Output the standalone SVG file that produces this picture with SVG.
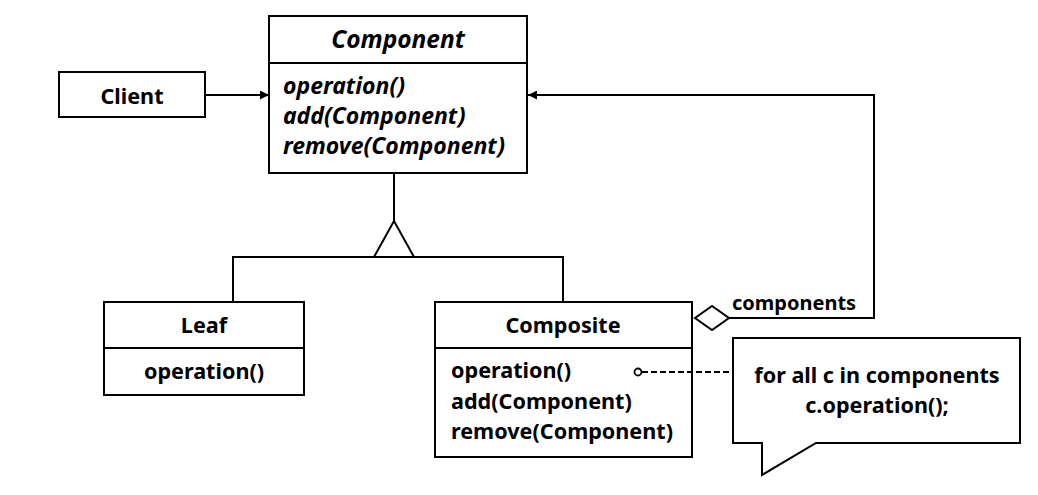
<svg xmlns="http://www.w3.org/2000/svg" width="1038" height="495" viewBox="0 0 1038 495">
<style>
.box{fill:#fff;stroke:#000;stroke-width:2}
.ln{fill:none;stroke:#000;stroke-width:2}
text{font-family:"Noto Sans","Open Sans","DejaVu Sans",sans-serif;font-weight:bold;font-size:21.6px;fill:#000}
.it{font-style:italic;font-size:23px}
.c{text-anchor:middle}
</style>
<defs>
<marker id="arr" viewBox="0 0 10 10" refX="10" refY="5" markerWidth="9" markerHeight="9" markerUnits="userSpaceOnUse" orient="auto">
<path d="M0,0 L10,5 L0,10 z" fill="#000"/>
</marker>
</defs>
<g id="component">
<rect class="box" x="269" y="16" width="258" height="157"/>
<line class="ln" x1="269" y1="63" x2="527" y2="63"/>
<text class="it c" x="398" y="48" style="font-size:24.5px">Component</text>
<text class="it" x="283" y="94">operation()</text>
<text class="it" x="283" y="124">add(Component)</text>
<text class="it" x="283" y="154">remove(Component)</text>
</g>
<g id="client">
<rect class="box" x="59" y="72" width="146" height="45"/>
<text class="c" x="132" y="104">Client</text>
</g>
<g id="leaf">
<rect class="box" x="104" y="302" width="200" height="93"/>
<line class="ln" x1="104" y1="348" x2="304" y2="348"/>
<text class="c" x="204" y="333">Leaf</text>
<text class="c" x="204" y="379">operation()</text>
</g>
<g id="composite">
<rect class="box" x="435" y="302" width="257" height="155"/>
<line class="ln" x1="435" y1="348" x2="692" y2="348"/>
<text class="c" x="563" y="333">Composite</text>
<text x="451" y="378">operation()</text>
<text x="451" y="409">add(Component)</text>
<text x="451" y="439">remove(Component)</text>
</g>
<g id="components-label">
<text x="732" y="310" style="font-size:20px">components</text>
</g>
<g id="note">
<path class="box" d="M733,338 L1020,338 L1020,443 L816,443 L762,475 L762,443 L733,443 Z"/>
<text class="c" x="877" y="383">for all c in components</text>
<text class="c" x="877" y="413">c.operation();</text>
</g>
<g id="connectors">
<line class="ln" x1="205" y1="95" x2="269" y2="95" marker-end="url(#arr)"/>
<polyline class="ln" points="729,318 874,318 874,95 528,95" marker-end="url(#arr)"/>
<polygon class="ln" points="695,318 712,306 729,318 712,330" fill="#fff"/>
<line class="ln" x1="394" y1="173" x2="394" y2="221"/>
<polygon class="ln" points="394,221 374,257 414,257"/>
<polyline class="ln" points="233,302 233,257 563,257 563,302"/>
<line class="ln" x1="642" y1="372" x2="733" y2="372" stroke-dasharray="6,3"/>
<circle cx="638" cy="372" r="3.5" fill="#fff" stroke="#000" stroke-width="1.8"/>
</g>
</svg>
